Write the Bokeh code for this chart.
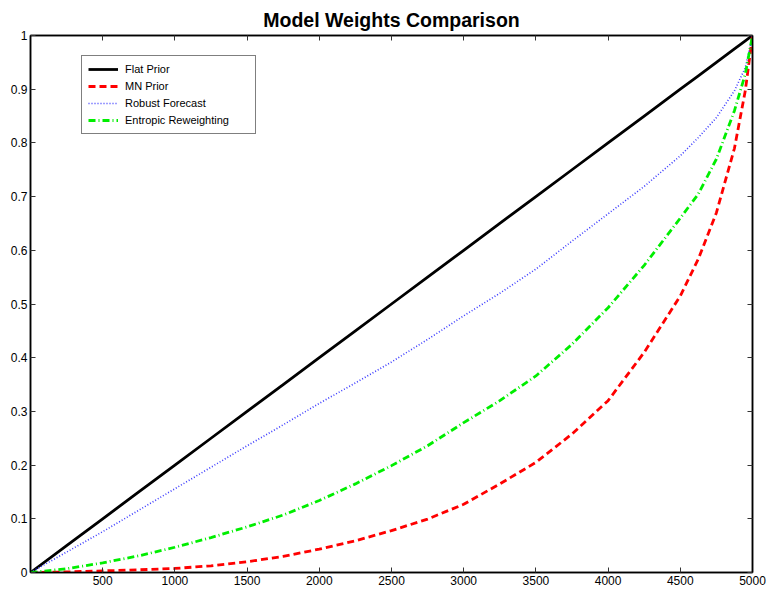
from bokeh.plotting import figure
from bokeh.models import LinearAxis, FixedTicker, Legend, LegendItem, Range1d, CustomJSTickFormatter
from bokeh.embed import file_html
from bokeh.resources import INLINE

# ---- data ----
x_vals = [0, 250, 500, 750, 1000, 1250, 1500, 1750, 2000, 2250, 2500, 2750, 3000,
          3250, 3500, 3750, 4000, 4250, 4500, 4625, 4750, 4875, 4950, 5000]
flat_prior = [0, 0.05, 0.1, 0.15, 0.2, 0.25, 0.3, 0.35, 0.4, 0.45, 0.5, 0.55, 0.6,
              0.65, 0.7, 0.75, 0.8, 0.85, 0.9, 0.925, 0.95, 0.975, 0.99, 1.0]
mn_prior = [0, 0.001, 0.003, 0.005, 0.0075, 0.0125, 0.02, 0.03, 0.0435, 0.059, 0.078, 0.0995, 0.127,
            0.165, 0.205, 0.258, 0.32, 0.41, 0.515, 0.584, 0.67, 0.79, 0.897, 1.0]
robust_forecast = [0, 0.038, 0.076, 0.116, 0.156, 0.196, 0.236, 0.275, 0.315, 0.353, 0.392, 0.434, 0.478,
                   0.52, 0.565, 0.617, 0.668, 0.719, 0.776, 0.81, 0.847, 0.897, 0.94, 1.0]
entropic_reweighting = [0, 0.007, 0.018, 0.031, 0.047, 0.065, 0.085, 0.107, 0.134, 0.165, 0.199, 0.236, 0.279,
                        0.32, 0.366, 0.425, 0.493, 0.572, 0.66, 0.705, 0.77, 0.86, 0.928, 1.0]

x_ticks = [500, 1000, 1500, 2000, 2500, 3000, 3500, 4000, 4500, 5000]
y_ticks = [0, 0.1, 0.2, 0.3, 0.4, 0.5, 0.6, 0.7, 0.8, 0.9, 1.0]
y_tick_labels = ["0", "0.1", "0.2", "0.3", "0.4", "0.5", "0.6", "0.7", "0.8", "0.9", "1"]
series_names = ["Flat Prior", "MN Prior", "Robust Forecast", "Entropic Reweighting"]

FONT = "Liberation Sans"

p = figure(width=768, height=593, output_backend="svg", toolbar_location=None,
           x_range=Range1d(0, 5000), y_range=Range1d(0, 1),
           min_border_left=30, min_border_right=16, min_border_top=35, min_border_bottom=21,
           title="Model Weights Comparison")
p.title.text_font = FONT
p.title.text_font_size = "19.5px"
p.title.text_font_style = "bold"
p.title.text_color = "black"
p.title.align = "center"
p.title.standoff = 9
p.title.offset = 0
p.xgrid.visible = False
p.ygrid.visible = False
p.outline_line_color = "black"
p.outline_line_width = 1.5
p.background_fill_color = "white"
p.border_fill_color = "white"

def style_axis(ax, show_labels=True):
    ax.major_tick_in = 5
    ax.major_tick_out = 0
    ax.minor_tick_line_color = None
    ax.major_tick_line_color = "#333333"
    ax.major_tick_line_width = 1
    ax.axis_line_color = "black"
    ax.axis_line_width = 1.5
    ax.major_label_text_font = FONT
    ax.major_label_text_color = "black"
    ax.major_label_text_font_size = "12px"
    if show_labels:
        ax.major_label_standoff = 3
    else:
        ax.formatter = CustomJSTickFormatter(code="return '';")
        ax.major_label_standoff = 0

xax = p.xaxis[0]
xax.ticker = FixedTicker(ticks=x_ticks)
style_axis(xax)
yax = p.yaxis[0]
yax.ticker = FixedTicker(ticks=y_ticks)
yax.major_label_overrides = {t: l for t, l in zip(y_ticks, y_tick_labels)}
style_axis(yax)

top_ax = LinearAxis(ticker=FixedTicker(ticks=x_ticks))
style_axis(top_ax, show_labels=False)
p.add_layout(top_ax, "above")
right_ax = LinearAxis(ticker=FixedTicker(ticks=y_ticks))
style_axis(right_ax, show_labels=False)
p.add_layout(right_ax, "right")

r_flat = p.line(x_vals, flat_prior, line_color="black", line_width=2.8)
r_mn = p.line(x_vals, mn_prior, line_color="#ff0000", line_width=2.8, line_dash="7 4")
r_rob = p.line(x_vals, robust_forecast, line_color="#3c3cff", line_width=1.6, line_dash="1 2")
r_ent = p.line(x_vals, entropic_reweighting, line_color="#00ee00", line_width=2.8, line_dash="7 3 1 3")

legend = Legend(items=[LegendItem(label=n, renderers=[r]) for n, r in
                       zip(series_names, [r_flat, r_mn, r_rob, r_ent])],
                location=(51, 438))
legend.label_text_font = FONT
legend.label_text_font_size = "11px"
legend.label_text_color = "black"
legend.glyph_width = 30
legend.glyph_height = 14
legend.label_height = 14
legend.spacing = 3
legend.padding = 6
legend.margin = 0
legend.label_standoff = 7
legend.label_width = 124
legend.border_line_color = "black"
legend.border_line_width = 1.5
legend.background_fill_color = "white"
legend.background_fill_alpha = 1
p.add_layout(legend, "center")

open("out.html", "w").write(file_html(p, INLINE))
